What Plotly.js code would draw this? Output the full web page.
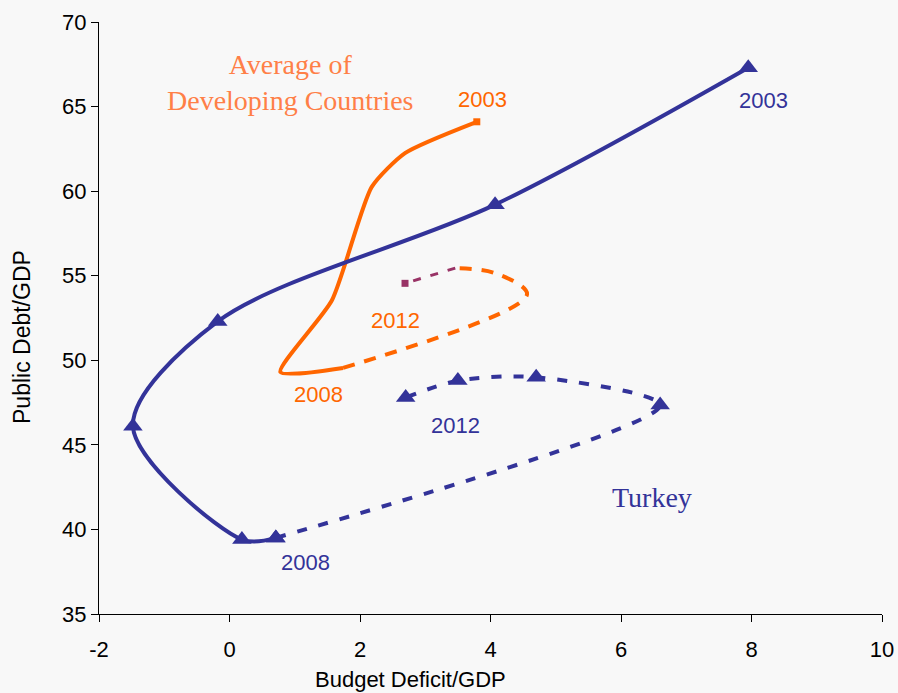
<!DOCTYPE html>
<html>
<head>
<meta charset="utf-8">
<script src="https://cdn.plot.ly/plotly-3.0.1.min.js"></script>
<style>html,body{margin:0;padding:0;background:#f8f8f8;}#chart{width:898px;height:693px;}</style>
</head>
<body>
<div id="chart"></div>
<script>
// Turkey: 2003-2008 (solid), 2008-2012 (dashed)
var turkeyYearsA = [2003, 2004, 2005, 2006, 2007, 2008];
var turkeyDeficitA = [7.95, 4.07, -0.18, -1.48, 0.19, 0.71];
var turkeyDebtA = [67.3, 59.2, 52.3, 46.1, 39.4, 39.5];
var turkeyYearsB = [2008, 2009, 2010, 2011, 2012];
var turkeyDeficitB = [0.71, 6.6, 4.7, 3.5, 2.7];
var turkeyDebtB = [39.5, 47.35, 49.0, 48.8, 47.8];

// Average of developing countries
var devYearsA = [2003, 2004, 2005, 2006, 2007, 2008];
var devDeficitA = [3.79, 2.69, 2.18, 1.57, 0.78, 1.74];
var devDebtA = [64.1, 62.25, 60.25, 53.55, 49.3, 49.55];
var devYearsB = [2008, 2009, 2010, 2011];
var devDeficitB = [1.74, 4.56, 4.07, 3.46];
var devDebtB = [49.55, 53.9, 55.15, 55.45];
var devYearsC = [2011, 2012];
var devDeficitC = [3.46, 2.69];
var devDebtC = [55.45, 54.55];

// Axis tick values and labels
var xTickVals = [-2, 0, 2, 4, 6, 8, 10];
var xTickText = ['-2', '0', '2', '4', '6', '8', '10'];
var yTickVals = [35, 40, 45, 50, 55, 60, 65, 70];

var blue = '#333399', orange = '#FF6600', maroon = '#993366';

var traces = [
  {x: devDeficitA, y: devDebtA, text: devYearsA, mode: 'lines', line: {color: orange, width: 4, shape: 'spline', smoothing: 0.6}},
  {x: [devDeficitA[0]], y: [devDebtA[0]], mode: 'markers', marker: {symbol: 'square', color: orange, size: 7}},
  {x: devDeficitB, y: devDebtB, text: devYearsB, mode: 'lines', line: {color: orange, width: 4, shape: 'spline', smoothing: 1, dash: '12px,10px'}},
  {x: devDeficitC, y: devDebtC, text: devYearsC, mode: 'lines', line: {color: maroon, width: 3, shape: 'spline', dash: '8px,10px'}},
  {x: [devDeficitC[1]], y: [devDebtC[1]], mode: 'markers', marker: {symbol: 'square', color: maroon, size: 7}},
  {x: turkeyDeficitA, y: turkeyDebtA, text: turkeyYearsA, mode: 'lines+markers', line: {color: blue, width: 4, shape: 'spline', smoothing: 0.9}, marker: {symbol: 'triangle-up', color: blue, size: 17}},
  {x: turkeyDeficitB, y: turkeyDebtB, text: turkeyYearsB, mode: 'lines+markers', line: {color: blue, width: 4, shape: 'spline', smoothing: 0.8, dash: '10px,12px'}, marker: {symbol: 'triangle-up', color: blue, size: 17}}
];

var sans = 'Liberation Sans, Arial, sans-serif';
var serif = 'Liberation Serif, Times New Roman, serif';
var tickFont = {family: sans, size: 22, color: '#000'};
function ann(x, y, t, c, isSerif) {
  return {x: x, y: y, xref: 'x', yref: 'y', text: t, showarrow: false, xanchor: 'center', yanchor: 'middle',
    font: {family: isSerif ? serif : sans, size: isSerif ? 28 : 22, color: c}};
}

var L = 99, R = 16, T = 22, B = 79, W = 898, H = 693;
var pw = W - L - R, ph = H - T - B;
function px(xp) { return (xp - L) / pw; }
function py(yp) { return (H - B - yp) / ph; }

var layout = {
  width: W, height: H,
  margin: {l: L, r: R, t: T, b: B},
  paper_bgcolor: '#f8f8f8', plot_bgcolor: '#f8f8f8',
  showlegend: false,
  xaxis: {range: [-2, 10], tickmode: 'array', tickvals: xTickVals, ticktext: xTickText, showgrid: false, zeroline: false, showline: true, linecolor: '#000', linewidth: 1,
    ticks: 'outside', ticklen: 7, tickcolor: '#000', tickfont: tickFont, ticklabelstandoff: 9},
  yaxis: {range: [35, 70], tickmode: 'array', tickvals: yTickVals, showgrid: false, zeroline: false, showline: true, linecolor: '#000', linewidth: 1,
    ticks: 'outside', ticklen: 7, tickcolor: '#000', tickfont: tickFont, ticksuffix: '\u00a0'},
  annotations: [
    {x: px(410), y: py(679), xref: 'paper', yref: 'paper', xanchor: 'center', yanchor: 'middle', text: 'Budget Deficit/GDP', showarrow: false,
      font: {family: sans, size: 22, color: '#000'}},
    {x: px(22), y: py(337), xref: 'paper', yref: 'paper', xanchor: 'center', yanchor: 'middle', text: 'Public Debt/GDP', textangle: -90, showarrow: false,
      font: {family: sans, size: 23, color: '#000'}},
    ann(0.93, 66.45, 'Average of<br>Developing Countries', '#FF7F47', true),
    ann(3.88, 65.39, '2003', orange),
    ann(8.18, 65.33, '2003', blue),
    ann(2.54, 52.38, '2012', orange),
    ann(1.37, 48.0, '2008', orange),
    ann(3.46, 46.17, '2012', blue),
    ann(1.17, 38.07, '2008', blue),
    ann(6.47, 41.86, 'Turkey', blue, true)
  ]
};

Plotly.newPlot('chart', traces, layout, {displayModeBar: false});
</script>
</body>
</html>
